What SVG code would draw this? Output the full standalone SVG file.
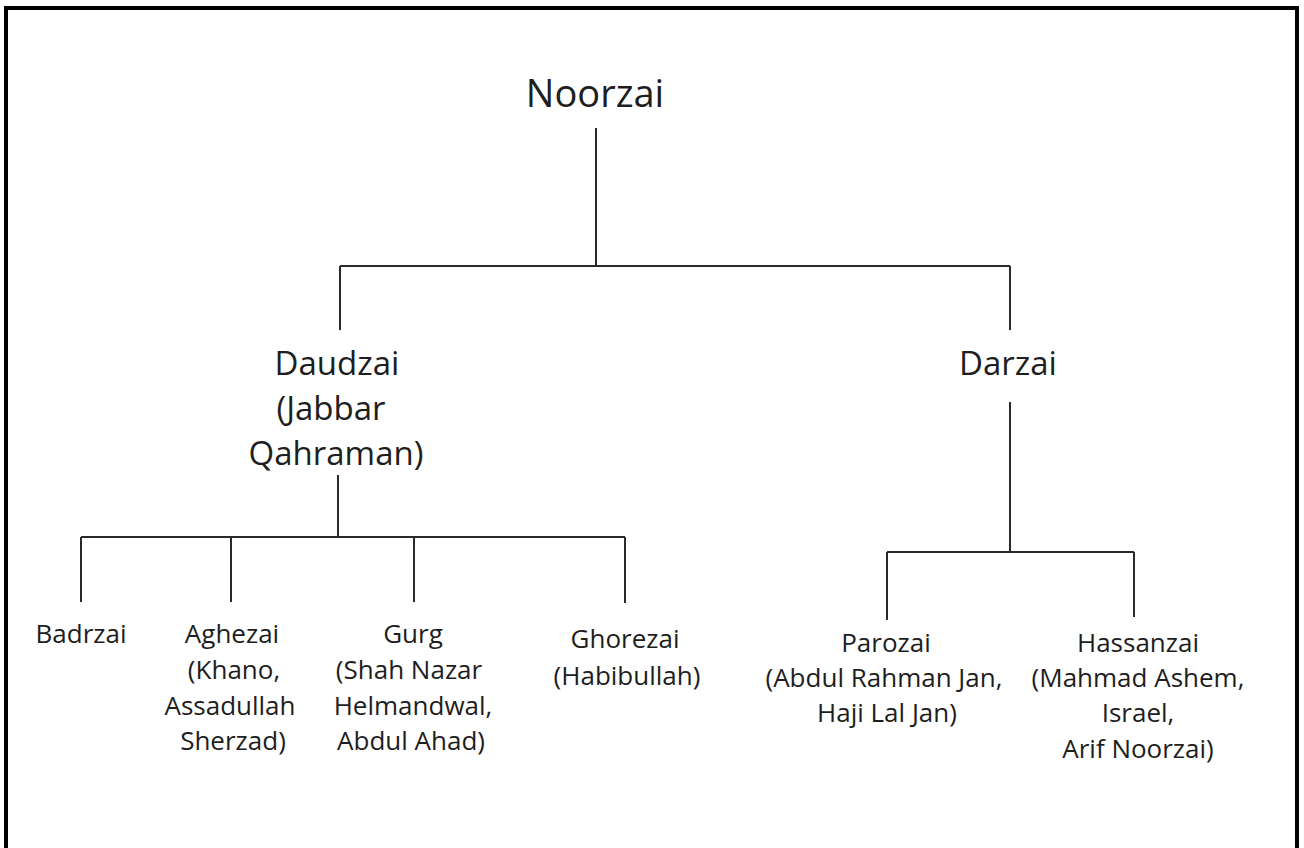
<svg xmlns="http://www.w3.org/2000/svg" width="1304" height="848" viewBox="0 0 1304 848">
<style>
text{font-family:"Open Sans","Noto Sans","Liberation Sans",sans-serif;fill:#1e1e1e;text-anchor:middle}
.l1{font-size:38px}
.l2{font-size:33px}
.l3{font-size:26px}
.c{stroke:#2a2a2a;stroke-width:2;fill:none}
</style>
<rect x="0" y="0" width="1304" height="848" fill="#fff"/>
<rect x="6" y="8" width="1291" height="880" fill="none" stroke="#000" stroke-width="4"/>
<g id="connectors" class="c">
<path d="M596 128V266M340 266H1010M340 266V330M1010 266V330"/>
<path d="M338 475V537M81 537H625M81 537V602M231 537V602M414 537V602M625 537V603"/>
<path d="M1010 402V552M887 552H1134M887 552V620M1134 552V617"/>
</g>
<g id="noorzai"><text class="l1" x="595" y="107">Noorzai</text></g>
<g id="daudzai" class="l2">
<text class="l2" x="337" y="375">Daudzai</text>
<text class="l2" x="331" y="420">(Jabbar</text>
<text class="l2" x="336" y="465">Qahraman)</text>
</g>
<g id="darzai"><text class="l2" x="1008" y="375">Darzai</text></g>
<g id="badrzai"><text class="l3" x="81" y="643">Badrzai</text></g>
<g id="aghezai">
<text class="l3" x="232" y="643">Aghezai</text>
<text class="l3" x="234" y="679">(Khano,</text>
<text class="l3" x="230" y="715">Assadullah</text>
<text class="l3" x="233" y="750">Sherzad)</text>
</g>
<g id="gurg">
<text class="l3" x="413" y="643">Gurg</text>
<text class="l3" x="409" y="679">(Shah Nazar</text>
<text class="l3" x="413" y="715">Helmandwal,</text>
<text class="l3" x="411" y="750">Abdul Ahad)</text>
</g>
<g id="ghorezai">
<text class="l3" x="625" y="648">Ghorezai</text>
<text class="l3" x="627" y="685">(Habibullah)</text>
</g>
<g id="parozai">
<text class="l3" x="886" y="652">Parozai</text>
<text class="l3" x="884" y="687">(Abdul Rahman Jan,</text>
<text class="l3" x="887" y="722">Haji Lal Jan)</text>
</g>
<g id="hassanzai">
<text class="l3" x="1138" y="652">Hassanzai</text>
<text class="l3" x="1138" y="687">(Mahmad Ashem,</text>
<text class="l3" x="1138" y="722">Israel,</text>
<text class="l3" x="1138" y="758">Arif Noorzai)</text>
</g>
</svg>
